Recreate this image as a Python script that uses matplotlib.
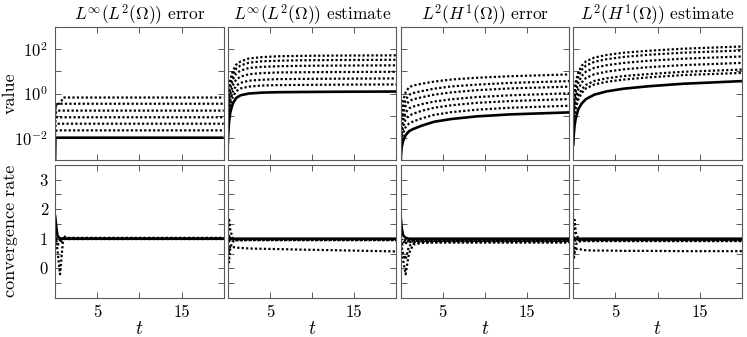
import numpy as np
import matplotlib.pyplot as plt

plt.rcParams['font.family'] = 'serif'
plt.rcParams['font.serif'] = ['cmr10']
plt.rcParams['mathtext.fontset'] = 'cm'
plt.rcParams['axes.unicode_minus'] = False

# time samples
t = [0, 0.05, 0.15, 0.3, 0.6, 1, 1.5, 2.5, 4, 6, 9, 13, 20]

titles = [r'$L^\infty(L^2(\Omega))$ error', r'$L^\infty(L^2(\Omega))$ estimate',
          r'$L^2(H^1(\Omega))$ error', r'$L^2(H^1(\Omega))$ estimate']

# top row, log10 of value; six coarse levels (dotted) then finest level (solid)
linf_err = [
    [-1.0, -0.6, -0.5, -0.47, -0.45, -0.18, -0.18, -0.18, -0.18, -0.18, -0.18, -0.18, -0.18],
    [-1.1, -0.7, -0.5, -0.47, -0.46, -0.46, -0.46, -0.46, -0.46, -0.46, -0.46, -0.46, -0.46],
    [-1.3, -0.95, -0.8, -0.77, -0.77, -0.77, -0.77, -0.77, -0.77, -0.77, -0.77, -0.77, -0.77],
    [-1.5, -1.2, -1.08, -1.07, -1.07, -1.07, -1.07, -1.07, -1.07, -1.07, -1.07, -1.07, -1.07],
    [-1.7, -1.45, -1.37, -1.36, -1.36, -1.36, -1.36, -1.36, -1.36, -1.36, -1.36, -1.36, -1.36],
    [-1.9, -1.72, -1.67, -1.66, -1.66, -1.66, -1.66, -1.66, -1.66, -1.66, -1.66, -1.66, -1.66],
    [-3.5, -1.99, -1.99, -1.99, -1.99, -1.99, -1.99, -1.99, -1.99, -1.99, -1.99, -1.99, -1.99],
]
linf_est = [
    [-0.68, -0.08, 0.32, 0.62, 1.02, 1.30, 1.44, 1.58, 1.64, 1.68, 1.70, 1.71, 1.72],
    [-0.88, -0.33, 0.12, 0.45, 0.85, 1.12, 1.26, 1.39, 1.45, 1.48, 1.50, 1.51, 1.52],
    [-1.13, -0.60, -0.13, 0.23, 0.63, 0.90, 1.03, 1.15, 1.20, 1.23, 1.25, 1.26, 1.27],
    [-1.42, -0.92, -0.42, -0.03, 0.37, 0.63, 0.76, 0.87, 0.92, 0.95, 0.96, 0.97, 0.98],
    [-1.74, -1.25, -0.72, -0.30, 0.10, 0.35, 0.48, 0.58, 0.62, 0.65, 0.66, 0.67, 0.68],
    [-2.02, -1.55, -0.99, -0.55, -0.15, 0.10, 0.23, 0.31, 0.36, 0.38, 0.39, 0.40, 0.41],
    [-2.35, -1.90, -1.30, -0.85, -0.45, -0.20, -0.08, 0.00, 0.04, 0.06, 0.07, 0.08, 0.09],
]
l2_err = [
    [-4.0, -1.6, -0.8, -0.35, 0.05, 0.28, 0.36, 0.44, 0.54, 0.63, 0.71, 0.78, 0.86],
    [-4.0, -1.8, -1.1, -0.68, -0.29, -0.06, 0.02, 0.11, 0.22, 0.32, 0.40, 0.48, 0.56],
    [-4.0, -2.0, -1.35, -0.95, -0.56, -0.34, -0.26, -0.17, -0.05, 0.05, 0.15, 0.23, 0.31],
    [-4.0, -2.2, -1.6, -1.22, -0.87, -0.67, -0.59, -0.48, -0.36, -0.26, -0.16, -0.08, 0.01],
    [-4.25, -2.4, -1.85, -1.5, -1.18, -1.0, -0.91, -0.78, -0.64, -0.53, -0.42, -0.34, -0.25],
    [-4.55, -2.6, -2.1, -1.8, -1.52, -1.35, -1.26, -1.12, -0.96, -0.84, -0.73, -0.64, -0.55],
    [-5.0, -2.8, -2.4, -2.15, -1.88, -1.70, -1.60, -1.45, -1.27, -1.15, -1.03, -0.94, -0.85],
]
l2_est = [
    [-0.9, -0.3, 0.2, 0.55, 0.95, 1.25, 1.45, 1.62, 1.74, 1.84, 1.93, 2.02, 2.12],
    [-1.1, -0.5, 0.0, 0.36, 0.76, 1.06, 1.26, 1.43, 1.55, 1.65, 1.75, 1.84, 1.94],
    [-1.35, -0.77, -0.27, 0.09, 0.49, 0.79, 0.99, 1.16, 1.28, 1.38, 1.48, 1.57, 1.67],
    [-1.65, -1.06, -0.56, -0.2, 0.2, 0.5, 0.7, 0.87, 0.99, 1.09, 1.19, 1.28, 1.38],
    [-1.9, -1.36, -0.86, -0.5, -0.1, 0.19, 0.39, 0.57, 0.69, 0.79, 0.88, 0.98, 1.08],
    [-2.1, -1.52, -1.02, -0.66, -0.27, 0.03, 0.23, 0.41, 0.53, 0.63, 0.73, 0.83, 0.93],
    [-2.35, -1.9, -1.45, -1.1, -0.7, -0.45, -0.25, -0.05, 0.1, 0.22, 0.33, 0.44, 0.56],
]

# bottom row, convergence rates; five dotted then one solid
rate_linf_err = [
    [1.0, 1.0, 0.9, 0.6, -0.2, 1.1, 1.0, 1.0, 1.0, 1.0, 1.0, 1.0, 1.0],
    [1.0, 1.05, 0.95, 0.8, 0.85, 1.0, 1.01, 1.01, 1.01, 1.01, 1.01, 1.01, 1.01],
    [1.0, 1.0, 1.0, 0.95, 0.95, 1.02, 1.02, 1.02, 1.02, 1.02, 1.02, 1.02, 1.02],
    [1.0, 1.0, 1.0, 1.0, 1.0, 0.99, 0.99, 0.99, 0.99, 0.99, 0.99, 0.99, 0.99],
    [1.0, 1.0, 1.0, 1.0, 1.0, 1.03, 1.03, 1.03, 1.03, 1.03, 1.03, 1.03, 1.03],
    [1.8, 1.7, 1.4, 1.1, 1.0, 1.0, 1.0, 1.0, 1.0, 1.0, 1.0, 1.0, 1.0],
]
rate_linf_est = [
    [0.9, 0.5, 0.6, 0.75, 0.72, 0.7, 0.69, 0.67, 0.66, 0.65, 0.63, 0.61, 0.57],
    [1.0, 1.3, 1.7, 1.3, 1.0, 0.95, 0.95, 0.95, 0.95, 0.95, 0.95, 0.95, 0.95],
    [1.0, 0.6, 0.2, 0.7, 0.9, 0.95, 0.95, 0.96, 0.96, 0.96, 0.96, 0.96, 0.96],
    [1.0, 0.9, 1.1, 1.0, 0.97, 0.97, 0.97, 0.97, 0.97, 0.97, 0.97, 0.97, 0.97],
    [1.0, 1.1, 0.9, 0.98, 0.99, 0.98, 0.98, 0.98, 0.98, 0.98, 0.98, 0.98, 0.98],
    [0.95, 1.1, 1.05, 1.0, 1.0, 1.0, 1.0, 1.0, 1.0, 1.0, 1.0, 1.0, 1.0],
]
rate_l2_err = [
    [1.0, 0.8, 0.6, 0.3, -0.2, 0.5, 0.8, 0.86, 0.87, 0.87, 0.87, 0.87, 0.87],
    [1.0, 0.9, 0.7, 0.5, 0.3, 0.75, 0.85, 0.88, 0.89, 0.89, 0.89, 0.89, 0.89],
    [1.0, 0.95, 0.85, 0.8, 0.85, 0.88, 0.9, 0.9, 0.91, 0.91, 0.91, 0.91, 0.91],
    [1.0, 1.0, 0.9, 0.88, 0.9, 0.92, 0.93, 0.93, 0.93, 0.93, 0.93, 0.93, 0.93],
    [1.0, 1.0, 0.95, 0.93, 0.94, 0.95, 0.95, 0.95, 0.95, 0.95, 0.95, 0.95, 0.95],
    [1.8, 1.65, 1.35, 1.12, 1.03, 1.0, 1.0, 1.0, 1.0, 1.0, 1.0, 1.0, 1.0],
]
rate_l2_est = [
    [0.9, 0.6, 0.55, 0.65, 0.66, 0.63, 0.61, 0.6, 0.6, 0.59, 0.59, 0.58, 0.58],
    [1.0, 1.3, 1.64, 1.2, 1.0, 0.95, 0.94, 0.94, 0.94, 0.94, 0.94, 0.94, 0.94],
    [1.0, 0.3, 0.5, 0.8, 0.9, 0.92, 0.92, 0.92, 0.92, 0.92, 0.92, 0.92, 0.92],
    [1.0, 0.9, 0.95, 0.93, 0.93, 0.93, 0.93, 0.93, 0.93, 0.93, 0.93, 0.93, 0.93],
    [1.0, 1.0, 0.97, 0.96, 0.96, 0.96, 0.96, 0.96, 0.96, 0.96, 0.96, 0.96, 0.96],
    [1.0, 1.05, 1.0, 1.0, 1.0, 1.0, 1.0, 1.0, 1.0, 1.0, 1.0, 1.0, 1.0],
]

top_data = [linf_err, linf_est, l2_err, l2_est]
bot_data = [rate_linf_err, rate_linf_est, rate_l2_err, rate_l2_est]

fig, axes = plt.subplots(2, 4, figsize=(7.47, 3.37), dpi=100, sharex=True)
fig.subplots_adjust(left=0.0736, right=0.9933, top=0.92, bottom=0.116,
                    wspace=0.024, hspace=0.035)

dot = dict(color='black', lw=1.6, linestyle=(0, (1, 1)), dash_capstyle='butt')
sol = dict(color='black', lw=1.9, solid_capstyle='butt')

for j in range(4):
    ax = axes[0, j]
    lines = top_data[j]
    for k, y in enumerate(lines):
        vals = 10.0 ** np.array(y)
        if k < len(lines) - 1:
            ax.plot(t, vals, **dot)
        else:
            ax.plot(t, vals, **sol)
    ax.set_yscale('log')
    ax.set_ylim(1e-3, 1e3)
    ax.set_yticks([1e-2, 1e-1, 1e0, 1e1, 1e2])
    ax.yaxis.set_minor_locator(plt.NullLocator())
    if j == 0:
        ax.set_yticklabels([r'$10^{-2}$', '', r'$10^{0}$', '', r'$10^{2}$'])
        ax.set_ylabel('value', fontsize=13)
        ax.yaxis.set_label_coords(-0.22, 0.5)
    else:
        ax.set_yticklabels([])
    ax.set_title(titles[j], fontsize=12.5, pad=4)

    ax = axes[1, j]
    lines = bot_data[j]
    for k, y in enumerate(lines):
        if k < len(lines) - 1:
            ax.plot(t, y, **dot)
        else:
            ax.plot(t, y, **sol)
    ax.set_ylim(-1, 3.5)
    ax.set_yticks([0, 1, 2, 3])
    ax.set_yticks([-0.5, 0.5, 1.5, 2.5], minor=True)
    if j == 0:
        ax.set_yticklabels(['0', '1', '2', '3'])
        ax.set_ylabel('convergence rate', fontsize=13)
        ax.yaxis.set_label_coords(-0.22, 0.5)
    else:
        ax.set_yticklabels([])
    ax.set_xlabel(r'$t$', fontsize=14, labelpad=0)

for ax in axes.flat:
    ax.set_xlim(0, 20)
    ax.set_xticks([5, 10, 15])
    ax.tick_params(which='both', direction='in', top=True, right=True,
                   length=4, width=0.7, color='0.35', labelsize=12, pad=5)
    ax.tick_params(which='minor', length=4)
    for s in ax.spines.values():
        s.set_color('0.35')
        s.set_linewidth(0.8)

for ax in axes[1]:
    ax.set_xticklabels(['5', '', '15'])

fig.savefig('out.png', dpi=100)
